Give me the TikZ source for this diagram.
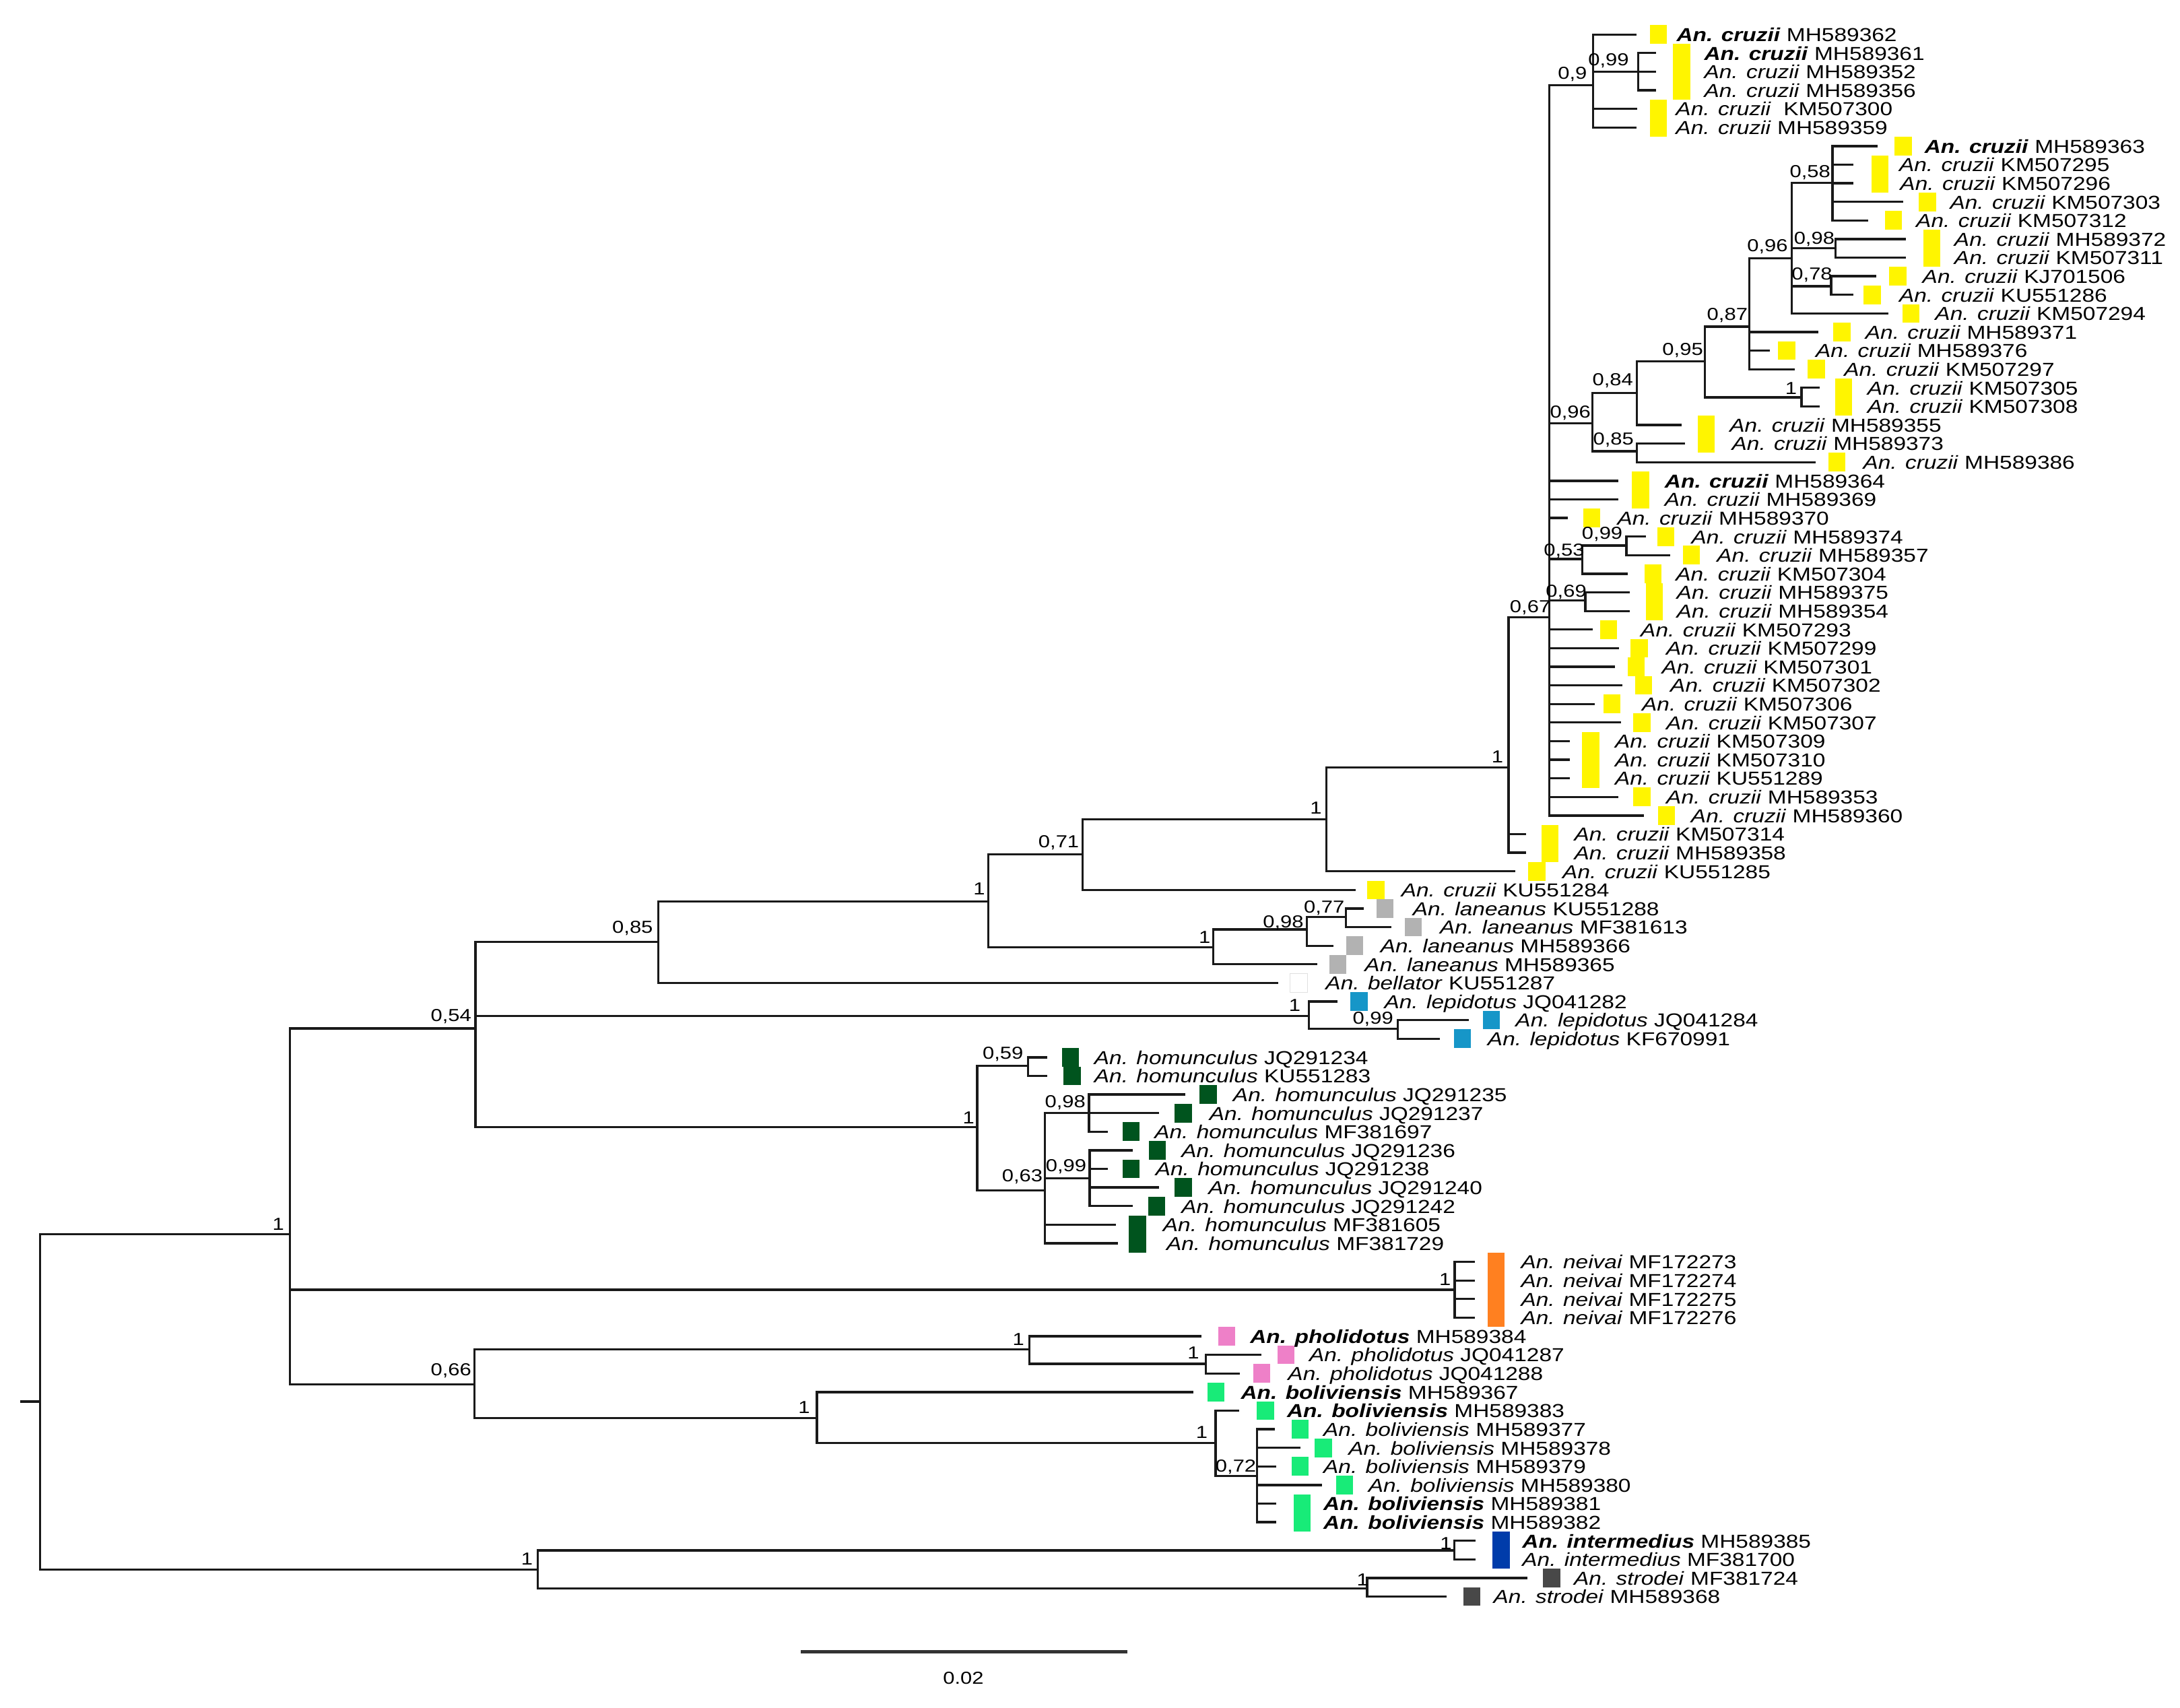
\documentclass[tikz,border=0pt]{standalone}
\usepackage{fontspec}
\setmainfont{Liberation Sans}[FakeStretch=1.2]
\definecolor{cyel}{RGB}{255,245,0}
\definecolor{cgray}{RGB}{178,178,178}
\definecolor{cteal}{RGB}{22,150,200}
\definecolor{cdkg}{RGB}{0,84,30}
\definecolor{cora}{RGB}{255,128,32}
\definecolor{cpink}{RGB}{238,128,200}
\definecolor{cgrn}{RGB}{24,235,120}
\definecolor{cblu}{RGB}{0,60,170}
\definecolor{cstr}{RGB}{72,72,72}
\tikzset{
 br/.style={line width=1.6pt, line cap=rect, line join=miter, draw=black!90},
 lab/.style={anchor=base west, inner sep=0pt, font=\fontsize{13.5}{14}\selectfont},
 blab/.style={anchor=center, inner sep=0pt, font=\fontsize{12.5}{13}\selectfont},
 scalebar/.style={line width=2.2pt, draw=black!80},
}
\newcommand{\lf}[7]{%
 \pgfmathsetmacro{\ry}{24.8+(#1-1)*13.375}
 \coordinate (l#1) at (#2,\ry);
 \fill[#5] (#3,\ry-6.7) rectangle ++(12.3,13.4);
 \node[lab] (t#1) at (#4,\ry+5) {\textit{#6} #7};
}
\begin{document}
\begin{tikzpicture}[x=1pt,y=-1pt]
\useasboundingbox (0,0) rectangle (1568,1228);
% leaves
\lf{1}{1176.3}{1186.8}{1205.7}{cyel}{\bfseries An. cruzii}{MH589362}
\lf{2}{1190.5}{1203.3}{1225.6}{cyel}{\bfseries An. cruzii}{MH589361}
\lf{3}{1190.5}{1203.3}{1225.6}{cyel}{An. cruzii}{MH589352}
\lf{4}{1190.5}{1203.3}{1225.6}{cyel}{An. cruzii}{MH589356}
\lf{5}{1176.8}{1186.8}{1205.2}{cyel}{An. cruzii}{\ KM507300}
\lf{6}{1176.3}{1186.8}{1205.2}{cyel}{An. cruzii}{MH589359}
\lf{7}{1349.7}{1362.8}{1384.1}{cyel}{\bfseries An. cruzii}{MH589363}
\lf{8}{1332.3}{1346}{1365.8}{cyel}{An. cruzii}{KM507295}
\lf{9}{1332.3}{1346}{1366.5}{cyel}{An. cruzii}{KM507296}
\lf{10}{1368}{1380.2}{1402.4}{cyel}{An. cruzii}{KM507303}
\lf{11}{1343}{1355.8}{1378}{cyel}{An. cruzii}{KM507312}
\lf{12}{1369.8}{1383.2}{1405.5}{cyel}{An. cruzii}{MH589372}
\lf{13}{1369.8}{1383.2}{1405.5}{cyel}{An. cruzii}{KM507311}
\lf{14}{1348.5}{1358.8}{1382.6}{cyel}{An. cruzii}{KJ701506}
\lf{15}{1332.3}{1340.5}{1365.8}{cyel}{An. cruzii}{KU551286}
\lf{16}{1357.6}{1368.3}{1391.7}{cyel}{An. cruzii}{KM507294}
\lf{17}{1307}{1318.6}{1341.5}{cyel}{An. cruzii}{MH589371}
\lf{18}{1272}{1279}{1305.8}{cyel}{An. cruzii}{MH589376}
\lf{19}{1290.2}{1300.3}{1326.2}{cyel}{An. cruzii}{KM507297}
\lf{20}{1307.9}{1320}{1343}{cyel}{An. cruzii}{KM507305}
\lf{21}{1307.9}{1320}{1343}{cyel}{An. cruzii}{KM507308}
\lf{22}{1208.8}{1221}{1243.9}{cyel}{An. cruzii}{MH589355}
\lf{23}{1211.2}{1221}{1245.5}{cyel}{An. cruzii}{MH589373}
\lf{24}{1304.9}{1314.9}{1339.9}{cyel}{An. cruzii}{MH589386}
\lf{25}{1163.1}{1173.8}{1197.2}{cyel}{\bfseries An. cruzii}{MH589364}
\lf{26}{1163.1}{1173.8}{1197.2}{cyel}{An. cruzii}{MH589369}
\lf{27}{1127.1}{1138.7}{1163.1}{cyel}{An. cruzii}{MH589370}
\lf{28}{1182.9}{1192.1}{1216.4}{cyel}{An. cruzii}{MH589374}
\lf{29}{1200.3}{1210.3}{1234.7}{cyel}{An. cruzii}{MH589357}
\lf{30}{1169.8}{1182.9}{1205.1}{cyel}{An. cruzii}{KM507304}
\lf{31}{1171.6}{1183.8}{1205.8}{cyel}{An. cruzii}{MH589375}
\lf{32}{1171.6}{1183.8}{1205.8}{cyel}{An. cruzii}{MH589354}
\lf{33}{1144.8}{1150.9}{1179.9}{cyel}{An. cruzii}{KM507293}
\lf{34}{1163.7}{1172.9}{1198.2}{cyel}{An. cruzii}{KM507299}
\lf{35}{1160.7}{1170.7}{1195.1}{cyel}{An. cruzii}{KM507301}
\lf{36}{1166.1}{1175.9}{1201.2}{cyel}{An. cruzii}{KM507302}
\lf{37}{1146.3}{1153.3}{1180.8}{cyel}{An. cruzii}{KM507306}
\lf{38}{1165}{1174.8}{1198.3}{cyel}{An. cruzii}{KM507307}
\lf{39}{1128.1}{1137.9}{1161.4}{cyel}{An. cruzii}{KM507309}
\lf{40}{1128.1}{1137.9}{1161.4}{cyel}{An. cruzii}{KM507310}
\lf{41}{1128.1}{1137.9}{1161.4}{cyel}{An. cruzii}{KU551289}
\lf{42}{1163}{1174.8}{1198.3}{cyel}{An. cruzii}{MH589353}
\lf{43}{1181.5}{1192.6}{1216.1}{cyel}{An. cruzii}{MH589360}
\lf{44}{1096.9}{1108.6}{1132.1}{cyel}{An. cruzii}{KM507314}
\lf{45}{1096.9}{1108.6}{1132.1}{cyel}{An. cruzii}{MH589358}
\lf{46}{1089}{1099.2}{1123.7}{cyel}{An. cruzii}{KU551285}
\lf{47}{974.3}{983.4}{1007.7}{cyel}{An. cruzii}{KU551284}
\lf{48}{980.2}{990}{1016}{cgray}{An. laneanus}{KU551288}
\lf{49}{1000}{1010.4}{1035.5}{cgray}{An. laneanus}{MF381613}
\lf{50}{958.1}{968.2}{992.7}{cgray}{An. laneanus}{MH589366}
\lf{51}{946.5}{956.1}{981.4}{cgray}{An. laneanus}{MH589365}
\lf{52}{918.4}{928}{953.3}{white}{An. bellator}{KU551287}
\draw[black!12, line width=0.5pt] (928,700.2) rectangle ++(12.3,13.4);
\lf{53}{961.3}{971.4}{995.5}{cteal}{An. lepidotus}{JQ041282}
\lf{54}{1055.7}{1066.6}{1089.9}{cteal}{An. lepidotus}{JQ041284}
\lf{55}{1034.8}{1045.7}{1069.8}{cteal}{An. lepidotus}{KF670991}
\lf{56}{752.3}{763.7}{786.9}{cdkg}{An. homunculus}{JQ291234}
\lf{57}{752.3}{765}{786.9}{cdkg}{An. homunculus}{KU551283}
\lf{58}{851.8}{862.9}{886.7}{cdkg}{An. homunculus}{JQ291235}
\lf{59}{832.6}{845}{869.7}{cdkg}{An. homunculus}{JQ291237}
\lf{60}{796.2}{807.3}{830.2}{cdkg}{An. homunculus}{MF381697}
\lf{61}{814.1}{826.4}{849.6}{cdkg}{An. homunculus}{JQ291236}
\lf{62}{796.2}{807.3}{830.9}{cdkg}{An. homunculus}{JQ291238}
\lf{63}{832.6}{845}{869}{cdkg}{An. homunculus}{JQ291240}
\lf{64}{814.1}{825.7}{849.6}{cdkg}{An. homunculus}{JQ291242}
\lf{65}{801.7}{811.9}{836.3}{cdkg}{An. homunculus}{MF381605}
\lf{66}{803.3}{811.9}{838.8}{cdkg}{An. homunculus}{MF381729}
\lf{67}{1060}{1069.9}{1093.8}{cora}{An. neivai}{MF172273}
\lf{68}{1060}{1069.9}{1093.8}{cora}{An. neivai}{MF172274}
\lf{69}{1060}{1069.9}{1093.8}{cora}{An. neivai}{MF172275}
\lf{70}{1060}{1069.9}{1093.8}{cora}{An. neivai}{MF172276}
\lf{71}{863.4}{876.3}{899}{cpink}{\bfseries An. pholidotus}{MH589384}
\lf{72}{906.5}{918.8}{941.5}{cpink}{An. pholidotus}{JQ041287}
\lf{73}{891.2}{901.4}{926.2}{cpink}{An. pholidotus}{JQ041288}
\lf{74}{857.6}{868.4}{892.3}{cgrn}{\bfseries An. boliviensis}{MH589367}
\lf{75}{890.5}{904.1}{925.5}{cgrn}{\bfseries An. boliviensis}{MH589383}
\lf{76}{916}{929}{951.7}{cgrn}{An. boliviensis}{MH589377}
\lf{77}{934.7}{945.6}{969.7}{cgrn}{An. boliviensis}{MH589378}
\lf{78}{916.9}{929}{951.7}{cgrn}{An. boliviensis}{MH589379}
\lf{79}{950}{960.9}{984}{cgrn}{An. boliviensis}{MH589380}
\lf{80}{916.9}{930.3}{951.7}{cgrn}{\bfseries An. boliviensis}{MH589381}
\lf{81}{916.9}{930.3}{951.7}{cgrn}{\bfseries An. boliviensis}{MH589382}
\lf{82}{1060.5}{1073.6}{1094.7}{cblu}{\bfseries An. intermedius}{MH589385}
\lf{83}{1060.5}{1073.6}{1094.7}{cblu}{An. intermedius}{MF381700}
\lf{84}{1098}{1109.8}{1131.9}{cstr}{An. strodei}{MF381724}
\lf{85}{1039.7}{1052.6}{1074}{cstr}{An. strodei}{MH589368}
% internal nodes
\coordinate (stub) at (15.3,1008);
\coordinate (R) at (28.7,1008);
\coordinate (A) at (208.5,887.6);
\coordinate (E) at (386.9,1128.8);
\coordinate (B) at (342,739.6);
\coordinate (C) at (473.6,677.3);
\coordinate (D) at (341.1,995.7);
\coordinate (F) at (710.8,648.4);
\coordinate (G) at (778.8,614.4);
\coordinate (H) at (954,589.4);
\coordinate (I) at (1085,552);
\coordinate (J) at (1114.3,444);
\coordinate (K) at (1145.7,61.4);
\coordinate (K2) at (1178.3,51.6);
\coordinate (L) at (1145.4,304.4);
\coordinate (M) at (1177.4,282.6);
\coordinate (N) at (1177.4,324.6);
\coordinate (O) at (1226.2,260);
\coordinate (P) at (1258.2,234.9);
\coordinate (Q) at (1295.7,285.8);
\coordinate (S) at (1288.7,185.7);
\coordinate (T) at (1318,131.6);
\coordinate (U) at (1320.1,178.4);
\coordinate (V) at (1317.1,205.9);
\coordinate (W) at (1138.1,402);
\coordinate (X) at (1169.8,392.4);
\coordinate (Y) at (1140.2,431.9);
\coordinate (Lan1) at (872.5,681.4);
\coordinate (Lan98) at (940,668.5);
\coordinate (Lan77) at (968.2,659.6);
\coordinate (Lep1) at (941.3,730.6);
\coordinate (Lep99) at (1005.5,739.8);
\coordinate (Hom1) at (702.9,810.6);
\coordinate (Hom59) at (739.3,766.7);
\coordinate (Hom63) at (751.7,856.3);
\coordinate (Hom98) at (783.2,800.6);
\coordinate (Hom99) at (783.8,847.4);
\coordinate (Nei) at (1046.3,927.6);
\coordinate (Pho1) at (740.4,970.4);
\coordinate (Pho1b) at (867.4,980.9);
\coordinate (Bol1) at (587.6,1019.9);
\coordinate (Bol1b) at (874.3,1037.9);
\coordinate (Bol72) at (904.1,1061.6);
\coordinate (Int) at (1046.2,1115);
\coordinate (Str) at (983.3,1142.4);
% branches
\draw[br] (stub) -- (R);
\foreach \p/\cs in {R/{A,E}, A/{B,Nei,D}, B/{C,Lep1,Hom1}, C/{F,l52}, F/{G,Lan1},
  G/{H,l47}, H/{I,l46}, I/{J,l44,l45},
  J/{K,L,l25,l26,l27,W,Y,l33,l34,l35,l36,l37,l38,l39,l40,l41,l42,l43},
  K/{l1,K2,l5,l6}, K2/{l2,l3,l4}, L/{M,N}, M/{O,l22}, N/{l23,l24}, O/{P,Q},
  P/{S,l17,l18,l19}, Q/{l20,l21}, S/{T,U,V,l16}, T/{l7,l8,l9,l10,l11},
  U/{l12,l13}, V/{l14,l15}, W/{X,l30}, X/{l28,l29}, Y/{l31,l32},
  Lan1/{Lan98,l51}, Lan98/{Lan77,l50}, Lan77/{l48,l49}, Lep1/{l53,Lep99},
  Lep99/{l54,l55}, Hom1/{Hom59,Hom63}, Hom59/{l56,l57},
  Hom63/{Hom98,Hom99,l65,l66}, Hom98/{l58,l59,l60}, Hom99/{l61,l62,l63,l64},
  Nei/{l67,l68,l69,l70}, D/{Pho1,Bol1}, Pho1/{l71,Pho1b}, Pho1b/{l72,l73},
  Bol1/{l74,Bol1b}, Bol1b/{l75,Bol72}, Bol72/{l76,l77,l78,l79,l80,l81},
  E/{Int,Str}, Int/{l82,l83}, Str/{l84,l85}}
  { \foreach \c in \cs { \draw[br] (\p) |- (\c); } }
% support values
\node[blab] (sA) at (200.2,880.4) {1};
\node[blab] (sB) at (324.4,731.1) {0,54};
\node[blab] (sC) at (455,667.8) {0,85};
\node[blab] (sF) at (704.3,639.4) {1};
\node[blab] (sG) at (761.5,606) {0,71};
\node[blab] (sH) at (946.5,581.3) {1};
\node[blab] (sI) at (1077,544.5) {1};
\node[blab] (sJ) at (1100.6,436.8) {0,67};
\node[blab] (sK) at (1131,53.3) {0,9};
\node[blab] (sK2) at (1157,43.6) {0,99};
\node[blab] (sL) at (1129.5,297.1) {0,96};
\node[blab] (sM) at (1160,273.7) {0,84};
\node[blab] (sN) at (1160.5,316.5) {0,85};
\node[blab] (sO) at (1210.3,251.9) {0,95};
\node[blab] (sP) at (1242.4,226.9) {0,87};
\node[blab] (sS) at (1271.3,177.6) {0,96};
\node[blab] (sT) at (1301.9,124.3) {0,58};
\node[blab] (sU) at (1304.9,172) {0,98};
\node[blab] (sV) at (1303.3,197.8) {0,78};
\node[blab] (sQ) at (1288.2,279.3) {1};
\node[blab] (sX) at (1152.4,384.3) {0,99};
\node[blab] (sW) at (1125,396.4) {0,53};
\node[blab] (sY) at (1126.5,426) {0,69};
\node[blab] (sLan1) at (866.5,674) {1};
\node[blab] (sLan98) at (923,663.6) {0,98};
\node[blab] (sLan77) at (952.4,653) {0,77};
\node[blab] (sLep1) at (931.2,723) {1};
\node[blab] (sLep99) at (987.5,733) {0,99};
\node[blab] (sHom1) at (696.7,804.1) {1};
\node[blab] (sHom59) at (721.4,758.1) {0,59};
\node[blab] (sHom98) at (766.2,792.8) {0,98};
\node[blab] (sHom99) at (766.8,838.8) {0,99};
\node[blab] (sHom63) at (735.3,846.1) {0,63};
\node[blab] (sNei) at (1039.4,920.4) {1};
\node[blab] (sD) at (324.4,985.9) {0,66};
\node[blab] (sPho1) at (732.5,963.1) {1};
\node[blab] (sPho1b) at (858.3,972.8) {1};
\node[blab] (sBol1) at (578.3,1012.4) {1};
\node[blab] (sBol1b) at (864.4,1030.2) {1};
\node[blab] (sBol72) at (888.9,1055.2) {0,72};
\node[blab] (sE) at (379,1121.3) {1};
\node[blab] (sInt) at (1040,1110) {1};
\node[blab] (sStr) at (980,1136) {1};
% scale bar
\coordinate (sb1) at (576.1,1187.9);
\coordinate (sb2) at (810.7,1187.9);
\draw[scalebar] (sb1) -- (sb2);
\node[blab] (sbl) at (692.9,1207) {0.02};
\end{tikzpicture}
\end{document}
